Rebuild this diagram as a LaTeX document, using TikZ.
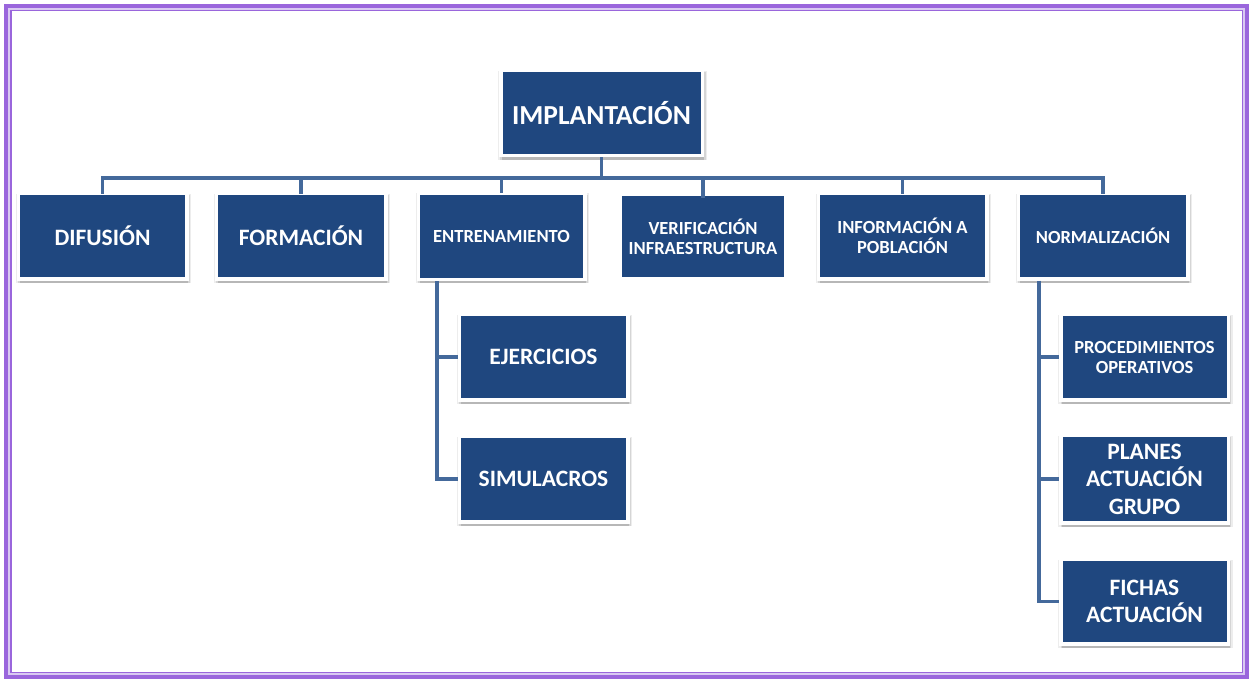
\documentclass[tikz,border=0pt]{standalone}
\usepackage{fontspec}
\setmainfont{Carlito}
\usetikzlibrary{shadows}
\definecolor{boxblue}{HTML}{1F477F}
\definecolor{linkblue}{HTML}{44699B}
\definecolor{frame}{HTML}{9A66DC}
\definecolor{framelight}{HTML}{D9C9F2}
\tikzset{
  box/.style={fill=boxblue, draw=white, line width=3.5pt, text=white, font=\bfseries,
    align=center, inner sep=0pt,
    general shadow={fill=black, opacity=0.07, shadow xshift=1pt, shadow yshift=-2pt, shadow scale=1.04},
    general shadow={fill=black, opacity=0.10, shadow xshift=1.5pt, shadow yshift=-3pt, shadow scale=1.02},
    general shadow={fill=black, opacity=0.14, shadow xshift=1.5pt, shadow yshift=-4pt}},
  flatbox/.style={fill=boxblue, draw=none, text=white, font=\bfseries, align=center, inner sep=0pt},
  big/.style={font=\bfseries\fontsize{23.5}{27.5}\selectfont},
  small/.style={font=\bfseries\fontsize{18.5}{20}\selectfont},
  link/.style={draw=linkblue, line width=3.2pt}
}
\begin{document}
\begin{tikzpicture}[x=1pt,y=-1pt]
\useasboundingbox (0,0) rectangle (1253,682);
% frame
\draw[frame, line width=4pt] (6,6) rectangle (1247,677);
\draw[framelight, line width=2pt] (9,9) rectangle (1244,674);
\draw[frame, line width=1.4pt] (10.8,10.8) rectangle (1242.2,672.2);
\coordinate (bus) at (603,178);
% nodes
\node[box, minimum width=201.5pt, minimum height=85.5pt, font=\bfseries\fontsize{27.5}{32}\selectfont] (impl) at (601.5,113) {IMPLANTACIÓN};
\node[box, big, minimum width=168.5pt, minimum height=85.5pt] (dif) at (102.5,236) {DIFUSIÓN};
\node[box, big, minimum width=169.5pt, minimum height=85.5pt] (form) at (301,236) {FORMACIÓN};
\node[box, small, minimum width=166.5pt, minimum height=86.5pt] (entr) at (501.5,236) {ENTRENAMIENTO};
\node[flatbox, small, minimum width=162pt, minimum height=81pt] (verif) at (703,236.5) {VERIFICACIÓN\\INFRAESTRUCTURA};
\node[box, small, minimum width=168.5pt, minimum height=85.5pt] (info) at (902.5,236) {INFORMACIÓN A\\POBLACIÓN};
\node[box, small, minimum width=169.5pt, minimum height=85.5pt] (norm) at (1103,236) {NORMALIZACIÓN};
\node[box, big, minimum width=168.5pt, minimum height=85.5pt] (ejer) at (543.5,357) {EJERCICIOS};
\node[box, big, minimum width=168.5pt, minimum height=85.5pt] (simu) at (543.5,479) {SIMULACROS};
\node[box, small, minimum width=167.5pt, minimum height=85.5pt] (proc) at (1144.5,357) {PROCEDIMIENTOS\\OPERATIVOS};
\node[box, big, minimum width=167.5pt, minimum height=87.5pt] (plan) at (1144.5,479) {PLANES\\ACTUACIÓN\\GRUPO};
\node[box, big, minimum width=167.5pt, minimum height=84.5pt] (fich) at (1144.5,601.5) {FICHAS\\ACTUACIÓN};
% connectors
\draw[link] (impl.south) -- (impl.south |- bus);
\draw[link, line cap=rect] (dif.north |- bus) -- (norm.north |- bus);
\foreach \n in {dif,form,entr,verif,info,norm}
  \draw[link] (\n.north |- bus) -- ([yshift=-2pt]\n.north);
\coordinate (ebar) at (437,0);
\draw[link] (entr.south -| ebar) |- (simu.west);
\draw[link] (ebar |- ejer.west) -- (ejer.west);
\coordinate (nbar) at (1039,0);
\draw[link] (norm.south -| nbar) |- (fich.west);
\draw[link] (nbar |- proc.west) -- (proc.west);
\draw[link] (nbar |- plan.west) -- (plan.west);
\end{tikzpicture}
\end{document}
